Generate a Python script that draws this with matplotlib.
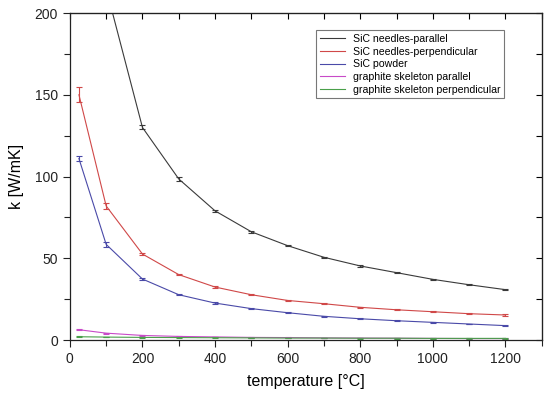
import matplotlib
matplotlib.use("Agg")
import matplotlib.pyplot as plt
from matplotlib.ticker import MultipleLocator

plt.rcParams['font.family'] = ['Liberation Sans', 'DejaVu Sans']

# temperature [°C]
temperature = [25, 100, 200, 300, 400, 500, 600, 700, 800, 900, 1000, 1100, 1200]

# thermal conductivity k [W/mK] and error bars
needles_par = [290, 215, 130, 98.5, 79, 66.2, 57.7, 50.6, 45.3, 41.2, 37.1, 33.8, 30.8]
needles_par_err = [3, 2.5, 1.2, 1.0, 0.6, 0.5, 0.4, 0.4, 0.4, 0.4, 0.4, 0.4, 0.4]
needles_perp = [150, 82, 52.6, 40, 32.4, 27.7, 24.2, 22.2, 20, 18.5, 17.3, 16.1, 15.3]
needles_perp_err = [4.5, 2, 0.6, 0.5, 0.4, 0.4, 0.4, 0.4, 0.4, 0.4, 0.4, 0.4, 0.4]
powder = [111, 58.5, 37.3, 27.7, 22.6, 19.2, 16.7, 14.5, 13, 11.8, 10.8, 9.8, 8.8]
powder_err = [1.8, 1.5, 0.5, 0.4, 0.4, 0.3, 0.3, 0.3, 0.3, 0.3, 0.3, 0.3, 0.3]
graphite_par = [6.3, 4.2, 2.8, 2.2, 1.9, 1.6, 1.5, 1.3, 1.2, 1.1, 1.0, 0.9, 0.9]
graphite_par_err = [0.4, 0.3, 0.2, 0.2, 0.2, 0.2, 0.2, 0.2, 0.2, 0.2, 0.2, 0.2, 0.2]
graphite_perp = [2.0, 1.8, 1.6, 1.5, 1.4, 1.3, 1.2, 1.2, 1.1, 1.1, 1.0, 1.0, 1.0]
graphite_perp_err = [0.2] * 13

fig = plt.figure(figsize=(5.5, 3.94), dpi=100)
ax = fig.add_axes([0.127, 0.137, 0.858, 0.830])

series = [
    (needles_par, needles_par_err, '#3a3a3a', 'SiC needles-parallel'),
    (needles_perp, needles_perp_err, '#d04848', 'SiC needles-perpendicular'),
    (powder, powder_err, '#4a4aa8', 'SiC powder'),
    (graphite_par, graphite_par_err, '#c84ac8', 'graphite skeleton parallel'),
    (graphite_perp, graphite_perp_err, '#4aa04a', 'graphite skeleton perpendicular'),
]
for vals, err, color, label in series:
    ax.errorbar(temperature, vals, yerr=err, color=color, lw=0.8,
                elinewidth=0.8, capsize=2.5, capthick=0.8, label=label)

ax.set_xlim(0, 1300)
ax.set_ylim(0, 200)
ax.xaxis.set_minor_locator(MultipleLocator(100))
ax.yaxis.set_major_locator(MultipleLocator(50))
ax.yaxis.set_minor_locator(MultipleLocator(25))
ax.set_xticks([0, 200, 400, 600, 800, 1000, 1200])

ax.tick_params(which='both', direction='out', length=5, width=0.8,
               labelsize=10, colors='#222222')
ax.tick_params(which='minor', length=4)

# inner ticks on top and right
top = ax.secondary_xaxis('top')
top.set_xticks(range(0, 1301, 100))
top.tick_params(direction='in', length=4, width=0.8, labeltop=False)
top.set_xticklabels([])
right = ax.secondary_yaxis('right')
right.set_yticks(range(0, 201, 25))
right.tick_params(direction='in', length=4, width=0.8, labelright=False)
right.set_yticklabels([])

for s in ax.spines.values():
    s.set_linewidth(0.9)
    s.set_color('#222222')

ax.set_xlabel('temperature [°C]', fontsize=11.5, labelpad=6)
ax.set_ylabel('k [W/mK]', fontsize=11.5, labelpad=8)

handles, labels = ax.get_legend_handles_labels()
handles = [h[0] for h in handles]
leg = ax.legend(handles, labels, loc='upper right', bbox_to_anchor=(0.92, 0.947),
                fontsize=7.6, frameon=True, fancybox=False, handlelength=2.4,
                borderpad=0.35, labelspacing=0.25, handletextpad=0.7,
                borderaxespad=0)
leg.get_frame().set_edgecolor('#555555')
leg.get_frame().set_linewidth(0.8)

fig.savefig('out.png', dpi=100)
